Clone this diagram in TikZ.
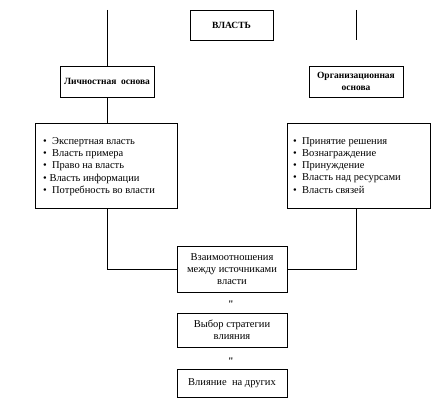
\documentclass[tikz,border=0pt]{standalone}
\usepackage{fontspec}
\setmainfont{Liberation Serif}
\usetikzlibrary{positioning,calc}

\begin{document}
\begin{tikzpicture}[x=1pt, y=-1pt,
  box/.style={draw, align=center, font=\fontsize{10.5}{12}\selectfont,
    inner sep=1pt},
  head/.style={box, font=\fontsize{9.5}{12}\bfseries\selectfont},
  lst/.style={align=left, anchor=north west, inner sep=0pt,
    font=\fontsize{10.5}{12.3}\selectfont},
  wire/.style={line width=0.6pt},
  tick/.style={font=\fontsize{10}{10}\bfseries\selectfont, inner sep=0pt},
]
  \useasboundingbox (0,0) rectangle (445,406);

  % Top level
  \node[head, minimum width=83pt, minimum height=30pt] (power) at (231.5,25) {ВЛАСТЬ};
  \node[head, minimum width=94pt, minimum height=31pt] (pers) at (107,81.5) {Личностная\ \ основа};
  \node[head, minimum width=94pt, minimum height=31pt] (org) at (356,81.5) {Организационная\\основа};
  \coordinate (ltop) at (107,10);
  \coordinate (rtop) at (356,10);
  \coordinate (rend) at (356,40);
  \draw[wire] (ltop) -- (pers.north);
  \draw[wire] (rtop) -- (rend);

  % Sources of power
  \node[draw, minimum width=142pt, minimum height=85pt] (plist) at (106,165.5) {};
  \node[draw, minimum width=143pt, minimum height=85pt] (olist) at (358.5,165.5) {};
  \node[lst] (ptext) at (43,137) {%
    \textbullet\ \ Экспертная власть\\
    \textbullet\ \ Власть примера\\
    \textbullet\ \ Право на власть\\
    \textbullet\ Власть информации\\
    \textbullet\ \ Потребность во власти};
  \node[lst] (otext) at (293,137) {%
    \textbullet\ \ Принятие решения\\
    \textbullet\ \ Вознаграждение\\
    \textbullet\ \ Принуждение\\
    \textbullet\ \ Власть над ресурсами\\
    \textbullet\ \ Власть связей};
  \draw[wire] (pers.south) -- (pers.south |- plist.north);

  % Chain
  \node[box, minimum width=110pt, minimum height=46pt] (rel) at (232,269)
    {Взаимоотношения\\между источниками\\власти};
  \node[box, minimum width=110pt, minimum height=34pt] (choice) at (232,330)
    {Выбор стратегии\\влияния};
  \node[box, minimum width=110pt, minimum height=28pt] (effect) at (232,383)
    {Влияние\ \ на других};
  \node[tick] (t1) at (231,304) {\textquotedbl};
  \node[tick] (t2) at (231,361) {\textquotedbl};
  \draw[wire] (plist.south -| pers) |- (rel.west);
  \draw[wire] (olist.south -| org) |- (rel.east);
\end{tikzpicture}
\end{document}
